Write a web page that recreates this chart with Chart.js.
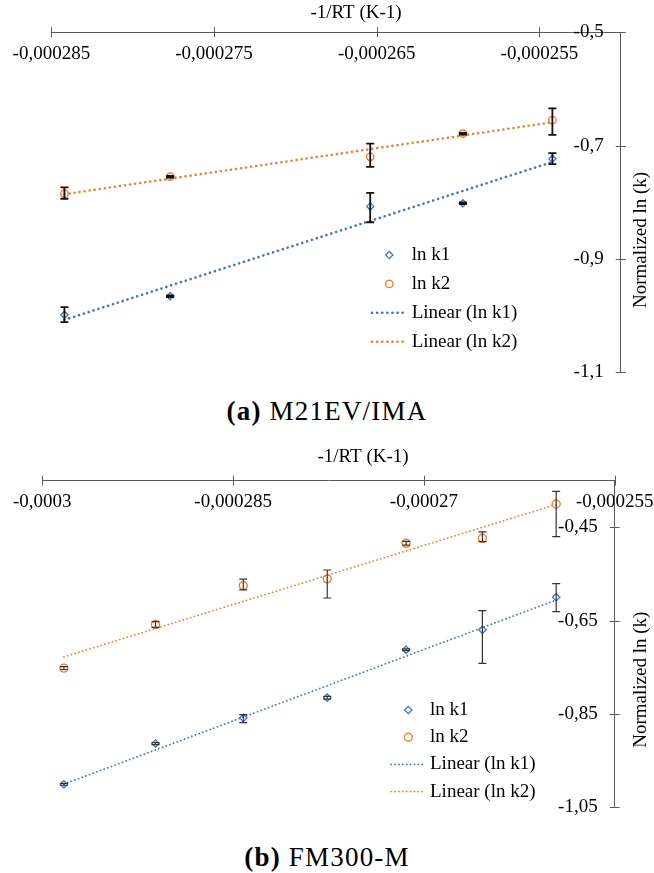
<!DOCTYPE html>
<html>
<head>
<meta charset="utf-8">
<script src="https://cdn.jsdelivr.net/npm/chart.js@4.4.0/dist/chart.umd.min.js"></script>
<style>
  html, body { margin: 0; padding: 0; background: #fff; }
  #page { position: relative; width: 654px; height: 873px; overflow: hidden; }
  #page canvas { position: absolute; left: 0; }
  #chartA { top: 0; }
  #chartB { top: 448px; }
  .caption { position: absolute; left: 0; width: 654px; text-align: center; line-height: 30px;
             font-family: 'Liberation Serif', serif; font-size: 27px; color: #000; letter-spacing: 1.2px; }
</style>
</head>
<body>
<div id="page">
  <canvas id="chartA" width="654" height="390"></canvas>
  <div class="caption" style="top:396px;"><b>(a)</b> M21EV/IMA</div>
  <canvas id="chartB" width="654" height="372"></canvas>
  <div class="caption" style="top:842px;"><b>(b)</b> FM300-M</div>
</div>
<script>
// --- (a) M21EV/IMA ---
const xA = [-0.0002842, -0.0002777, -0.0002654, -0.0002597, -0.0002542];
const lnK1A = [-0.999, -0.966, -0.8075, -0.802, -0.7235];
const lnK2A = [-0.785, -0.755, -0.720, -0.679, -0.655];
const k1UpA = [0.0135, 0.0015, 0.024, 0.0015, 0.010];
const k1DownA = [0.013, 0.0015, 0.028, 0.0015, 0.0095];
const k2UpA = [0.011, 0.0015, 0.0235, 0.0015, 0.0206];
const k2DownA = [0.009, 0.0015, 0.0176, 0.0015, 0.026];
const fitK1A = [-1.008, -0.729];   // Linear (ln k1), first/last x
const fitK2A = [-0.786, -0.659];   // Linear (ln k2)
const xTicksA = [-0.000285, -0.000275, -0.000265, -0.000255];
const yTicksA = [-1.1, -0.9, -0.7, -0.5];

// --- (b) FM300-M ---
const xB = [-0.0002983, -0.0002911, -0.0002842, -0.0002776, -0.0002714, -0.0002654, -0.0002596];
const lnK1B = [-1.0013, -0.914, -0.859, -0.8156, -0.7127, -0.6699, -0.600];
const lnK2B = [-0.752, -0.6585, -0.575, -0.5606, -0.4843, -0.4736, -0.400];
const k1UpB = [0.002, 0.002, 0.007, 0.003, 0.002, 0.041, 0.029];
const k1DownB = [0.002, 0.002, 0.010, 0.003, 0.002, 0.072, 0.031];
const k2UpB = [0.003, 0.006, 0.014, 0.019, 0.004, 0.014, 0.027];
const k2DownB = [0.003, 0.006, 0.009, 0.041, 0.004, 0.007, 0.070];
const fitK1B = [-1.001, -0.606];
const fitK2B = [-0.728, -0.401];
const xTicksB = [-0.0003, -0.000285, -0.00027, -0.000255];
const yTicksB = [-1.05, -0.85, -0.65, -0.45];

const legendLabels = ['ln k1', 'ln k2', 'Linear (ln k1)', 'Linear (ln k2)'];

const blue = '#4472C4';
const orange = '#ED7D31';
const axisGrey = '#595959';
const serif = "'Liberation Serif', 'Times New Roman', serif";

// 小数点はカンマ表記
function commaLabel(v) { return String(v).replace('.', ','); }

// per-chart extras (error bars, legend, titles)
const extras = {};

function drawMarker(ctx, style, x, y, r, color, w) {
    ctx.save();
    ctx.strokeStyle = color;
    ctx.lineWidth = w;
    ctx.beginPath();
    if (style === 'rectRot') {
        ctx.moveTo(x - r, y); ctx.lineTo(x, y - r); ctx.lineTo(x + r, y); ctx.lineTo(x, y + r);
        ctx.closePath();
    } else {
        ctx.arc(x, y, r, 0, Math.PI * 2);
    }
    ctx.stroke();
    ctx.restore();
}

const extrasPlugin = {
    id: 'extras',
    afterDatasetsDraw(chart) {
        const e = extras[chart.canvas.id];
        const { ctx } = chart;
        const xs = chart.scales.x, ys = chart.scales.y;
        ctx.save();
        ctx.strokeStyle = e.barColor;
        ctx.lineWidth = e.barWidth;
        e.bars.forEach(b => {
            b.y.forEach((yv, i) => {
                const px = xs.getPixelForValue(e.x[i]);
                const top = ys.getPixelForValue(yv + b.up[i]);
                const bot = ys.getPixelForValue(yv - b.down[i]);
                ctx.beginPath();
                ctx.moveTo(px, top); ctx.lineTo(px, bot);
                ctx.moveTo(px - e.cap, top); ctx.lineTo(px + e.cap, top);
                ctx.moveTo(px - e.cap, bot); ctx.lineTo(px + e.cap, bot);
                ctx.stroke();
            });
        });
        ctx.restore();
    },
    afterDraw(chart) {
        const e = extras[chart.canvas.id];
        const { ctx, chartArea } = chart;
        const xs = chart.scales.x, ys = chart.scales.y;
        ctx.save();
        // 目盛り線（軸をまたぐ）
        ctx.strokeStyle = axisGrey;
        ctx.lineWidth = 1;
        ctx.beginPath();
        xs.ticks.forEach(t => {
            const p = Math.round(xs.getPixelForValue(t.value)) + 0.5;
            ctx.moveTo(p, chartArea.top - 5); ctx.lineTo(p, chartArea.top + 5);
        });
        ys.ticks.forEach(t => {
            const p = Math.round(ys.getPixelForValue(t.value)) + 0.5;
            ctx.moveTo(chartArea.right - 5, p); ctx.lineTo(chartArea.right + 5, p);
        });
        ctx.stroke();

        // axis titles
        ctx.fillStyle = '#000';
        ctx.font = `19px ${serif}`;
        ctx.textAlign = 'center';
        ctx.textBaseline = 'middle';
        ctx.fillText('-1/RT (K-1)', e.xTitle[0], e.xTitle[1]);
        ctx.save();
        ctx.translate(e.yTitle[0], e.yTitle[1]);
        ctx.rotate(-Math.PI / 2);
        ctx.fillText('Normalized ln (k)', 0, 0);
        ctx.restore();

        // 凡例
        const lg = e.legend;
        ctx.textAlign = 'left';
        chart.data.datasets.forEach((ds, i) => {
            const y = lg.top + i * lg.step;
            if (i < 2) {
                drawMarker(ctx, ds.pointStyle, lg.markX, y, ds.pointRadius, ds.pointBorderColor, ds.pointBorderWidth);
            } else {
                ctx.save();
                ctx.strokeStyle = ds.borderColor;
                ctx.lineWidth = ds.borderWidth;
                ctx.lineCap = 'round';
                ctx.setLineDash(ds.borderDash);
                ctx.beginPath();
                ctx.moveTo(lg.lineX[0], y); ctx.lineTo(lg.lineX[1], y);
                ctx.stroke();
                ctx.restore();
            }
            ctx.fillText(legendLabels[i], lg.textX, y);
        });
        ctx.restore();
    }
};

function buildChart(canvasId, s) {
    const last = s.x.length - 1;
    return new Chart(document.getElementById(canvasId).getContext('2d'), {
        type: 'scatter',
        data: {
            datasets: [
                { label: legendLabels[0], data: s.x.map((v, i) => ({ x: v, y: s.k1[i] })),
                  pointStyle: 'rectRot', pointRadius: s.diaR, pointBorderWidth: 1.3,
                  pointBorderColor: blue, pointBackgroundColor: 'rgba(0,0,0,0)', borderColor: blue, showLine: false },
                { label: legendLabels[1], data: s.x.map((v, i) => ({ x: v, y: s.k2[i] })),
                  pointStyle: 'circle', pointRadius: s.cirR, pointBorderWidth: 1.4,
                  pointBorderColor: orange, pointBackgroundColor: 'rgba(0,0,0,0)', borderColor: orange, showLine: false },
                { label: legendLabels[2], data: [{ x: s.x[0], y: s.fit1[0] }, { x: s.x[last], y: s.fit1[1] }],
                  showLine: true, borderColor: blue, borderWidth: s.dotW, borderDash: s.dash,
                  borderCapStyle: 'round', pointRadius: 0, fill: false },
                { label: legendLabels[3], data: [{ x: s.x[0], y: s.fit2[0] }, { x: s.x[last], y: s.fit2[1] }],
                  showLine: true, borderColor: orange, borderWidth: s.dotW, borderDash: s.dash,
                  borderCapStyle: 'round', pointRadius: 0, fill: false }
            ]
        },
        options: {
            responsive: false,
            animation: false,
            events: [],
            layout: { padding: s.pad },
            plugins: { legend: { display: false }, tooltip: { enabled: false } },
            scales: {
                x: {
                    type: 'linear', position: 'top', min: s.xMin, max: s.xMax,
                    afterBuildTicks: sc => { sc.ticks = s.xTicks.map(v => ({ value: v })); },
                    afterFit: sc => { sc.height = s.axisTop; sc.paddingLeft = 0; sc.paddingRight = 0; },
                    grid: { display: false },
                    border: { display: true, color: axisGrey, width: 1 },
                    ticks: { mirror: true, padding: 10, autoSkip: false, maxRotation: 0, minRotation: 0,
                             color: '#000', font: { family: serif, size: 19 }, callback: commaLabel }
                },
                y: {
                    type: 'linear', position: 'right', min: s.yMin, max: s.yMax,
                    afterBuildTicks: sc => { sc.ticks = s.yTicks.map(v => ({ value: v })); },
                    afterFit: sc => { sc.width = 0; sc.paddingTop = 0; sc.paddingBottom = 0; },
                    grid: { display: false },
                    border: { display: true, color: axisGrey, width: 1 },
                    ticks: { mirror: true, padding: -17, autoSkip: false,
                             color: '#000', font: { family: serif, size: 19 }, callback: commaLabel }
                }
            }
        },
        plugins: [extrasPlugin]
    });
}

extras.chartA = {
    x: xA, barColor: '#111', barWidth: 1.8, cap: 4,
    bars: [{ y: lnK1A, up: k1UpA, down: k1DownA }, { y: lnK2A, up: k2UpA, down: k2DownA }],
    xTitle: [356, 13.5], yTitle: [641, 240],
    legend: { top: 255, step: 28.9, markX: 389.3, lineX: [372, 406], textX: 411.7 }
};
extras.chartB = {
    x: xB, barColor: '#333', barWidth: 1.2, cap: 4,
    bars: [{ y: lnK1B, up: k1UpB, down: k1DownB }, { y: lnK2B, up: k2UpB, down: k2DownB }],
    xTitle: [363, 9.5], yTitle: [641, 231.7],
    legend: { top: 262, step: 27.2, markX: 408.3, lineX: [391, 423.3], textX: 430 }
};

buildChart('chartA', {
    x: xA, k1: lnK1A, k2: lnK2A, fit1: fitK1A, fit2: fitK2A,
    xMin: -0.000285, xMax: -0.00025, yMin: -1.1, yMax: -0.5,
    xTicks: xTicksA, yTicks: yTicksA,
    axisTop: 32.3, pad: { left: 51.4, right: 33.3, top: 0, bottom: 18 },
    diaR: 3.6, cirR: 3.7, dotW: 2.6, dash: [0.1, 5]
});
buildChart('chartB', {
    x: xB, k1: lnK1B, k2: lnK2B, fit1: fitK1B, fit2: fitK2B,
    xMin: -0.0003, xMax: -0.000255, yMin: -1.05, yMax: -0.35,
    xTicks: xTicksB, yTicks: yTicksB,
    axisTop: 32.7, pad: { left: 42.3, right: 39.3, top: 0, bottom: 13 },
    diaR: 3.7, cirR: 4, dotW: 1.8, dash: [0.1, 3.8]
});
</script>
</body>
</html>
